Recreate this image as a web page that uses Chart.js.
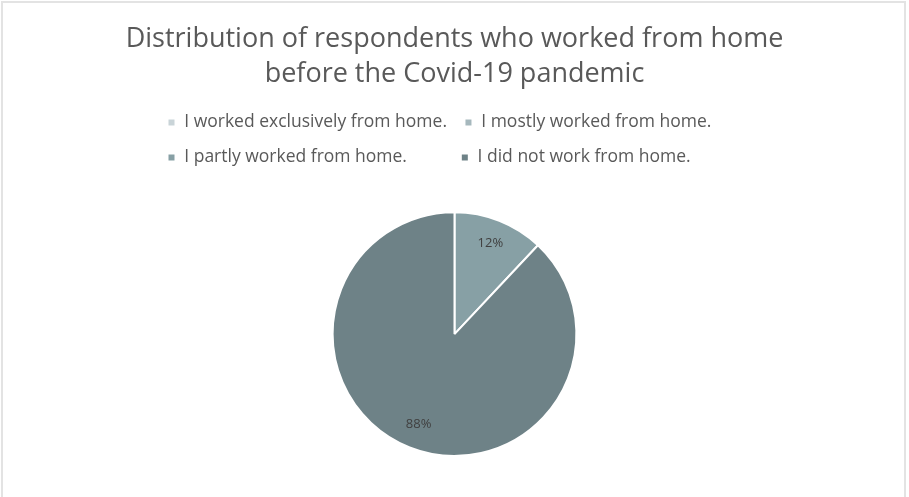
<!DOCTYPE html>
<html lang="en">
<head>
    <meta charset="UTF-8">
    <title>Working from home before Covid-19</title>
    <script src="https://cdn.jsdelivr.net/npm/chart.js@4.4.3/dist/chart.umd.min.js"></script>
    <style>
        html, body { margin: 0; padding: 0; background: #fff; }
        .marco {
            position: absolute;
            left: 1px;
            top: 1px;
            width: 905px;
            height: 500px;
            border: 2px solid #e3e3e3;
            box-sizing: border-box;
        }
        .grafico {
            position: absolute;
            left: 0;
            top: 0;
            width: 909px;
            height: 497px;
        }
    </style>
</head>
<body>
    <div class="marco"></div>
    <div class="grafico">
        <canvas id="wfhChart"></canvas>
    </div>
    <script>
        // Categorías y porcentajes
        const categorias = [
            'I worked exclusively from home.',
            'I mostly worked from home.',
            'I partly worked from home.',
            'I did not work from home.'
        ];
        const porcentajes = [0, 0, 12, 88];
        const colores = ['#c9d4d8', '#a6b8bd', '#87a0a5', '#6e8287'];

        const titulo = ['Distribution of respondents who worked from home', 'before the Covid-19 pandemic'];

        const fuenteLeyenda = { family: '"Open Sans"', size: 17.5 };

        // Etiquetas de porcentaje dentro de cada porción
        const etiquetasPorcentaje = {
            id: 'etiquetasPorcentaje',
            afterDatasetsDraw(chart) {
                const ctx = chart.ctx;
                const meta = chart.getDatasetMeta(0);
                ctx.save();
                ctx.font = '13px "Open Sans"';
                ctx.fillStyle = '#404040';
                ctx.textAlign = 'center';
                ctx.textBaseline = 'middle';
                meta.data.forEach((arc, i) => {
                    const valor = porcentajes[i];
                    if (!valor) return;
                    const p = arc.getProps(['x', 'y', 'startAngle', 'endAngle', 'outerRadius'], true);
                    const medio = (p.startAngle + p.endAngle) / 2;
                    const r = p.outerRadius * 0.8;
                    ctx.fillText(valor + '%', p.x + Math.cos(medio) * r, p.y + Math.sin(medio) * r);
                });
                ctx.restore();
            }
        };

        // Espacio extra bajo la leyenda y título a todo el ancho
        const ajustesLayout = {
            id: 'ajustesLayout',
            beforeInit(chart) {
                const fitOriginal = chart.legend.fit;
                chart.legend.fit = function () {
                    fitOriginal.bind(chart.legend)();
                    this.height += 35;
                };
            },
            afterLayout(chart) {
                const t = chart.titleBlock;
                t.left = 0;
                t.right = chart.width;
                t.width = chart.width;
            }
        };

        // Completa un texto con espacios hasta un ancho dado
        function rellenar(ctx, texto, ancho) {
            let t = texto;
            while (ctx.measureText(t + '\u00a0').width <= ancho) t += '\u00a0';
            return t;
        }

        new Chart(document.getElementById('wfhChart'), {
            type: 'pie',
            data: {
                labels: categorias,
                datasets: [{
                    data: porcentajes,
                    backgroundColor: colores,
                    borderColor: '#ffffff',
                    borderWidth: 2
                }]
            },
            options: {
                responsive: true,
                maintainAspectRatio: false,
                animation: false,
                layout: {
                    padding: { left: 150, right: 150, top: 0, bottom: 40 }
                },
                plugins: {
                    title: {
                        display: true,
                        text: titulo,
                        color: '#595959',
                        font: { family: '"Open Sans"', size: 27, weight: 'normal', lineHeight: 1.3 },
                        padding: { top: 22, bottom: 4 }
                    },
                    legend: {
                        position: 'top',
                        align: 'start',
                        labels: {
                            color: '#595959',
                            font: fuenteLeyenda,
                            usePointStyle: true,
                            pointStyle: 'rect',
                            boxWidth: 8,
                            boxHeight: 8,
                            padding: 17.5,
                            generateLabels(chart) {
                                const items = Chart.controllers.pie.overrides.plugins.legend.labels.generateLabels(chart);
                                // la segunda fila queda alineada en columnas con la primera
                                const ctx = chart.ctx;
                                ctx.save();
                                ctx.font = Chart.helpers.toFont(fuenteLeyenda).string;
                                items[2].text = rellenar(ctx, items[2].text, ctx.measureText(items[0].text).width);
                                ctx.restore();
                                return items;
                            }
                        }
                    },
                    tooltip: { enabled: false }
                }
            },
            plugins: [etiquetasPorcentaje, ajustesLayout]
        });
    </script>
</body>
</html>
